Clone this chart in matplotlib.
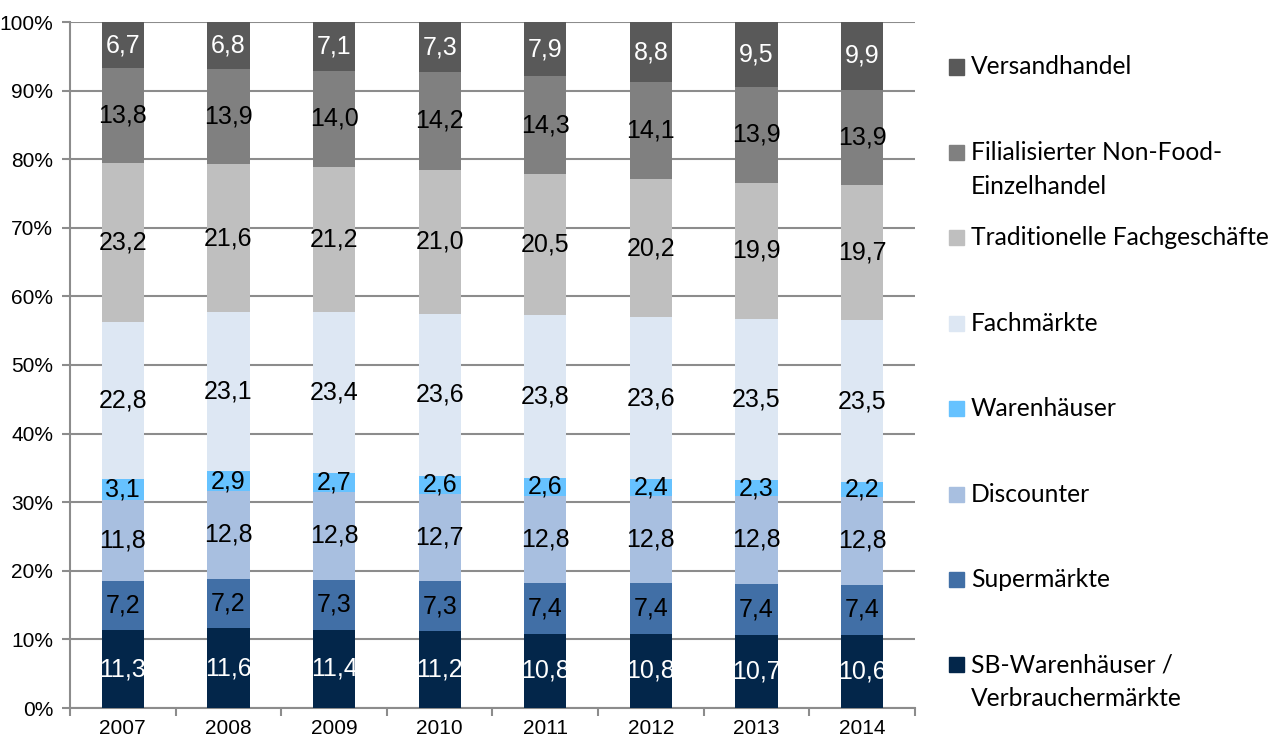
import matplotlib.pyplot as plt
import matplotlib.patches as mpatches
import numpy as np

years = ['2007', '2008', '2009', '2010', '2011', '2012', '2013', '2014']

# stack order bottom -> top
series_names = ['SB-Warenhäuser /\nVerbrauchermärkte', 'Supermärkte', 'Discounter', 'Warenhäuser',
                'Fachmärkte', 'Traditionelle Fachgeschäfte', 'Filialisierter Non-Food-\nEinzelhandel',
                'Versandhandel']
sb_warenhaeuser = [11.3, 11.6, 11.4, 11.2, 10.8, 10.8, 10.7, 10.6]
supermaerkte = [7.2, 7.2, 7.3, 7.3, 7.4, 7.4, 7.4, 7.4]
discounter = [11.8, 12.8, 12.8, 12.7, 12.8, 12.8, 12.8, 12.8]
warenhaeuser = [3.1, 2.9, 2.7, 2.6, 2.6, 2.4, 2.3, 2.2]
fachmaerkte = [22.8, 23.1, 23.4, 23.6, 23.8, 23.6, 23.5, 23.5]
fachgeschaefte = [23.2, 21.6, 21.2, 21.0, 20.5, 20.2, 19.9, 19.7]
filialisiert = [13.8, 13.9, 14.0, 14.2, 14.3, 14.1, 13.9, 13.9]
versandhandel = [6.7, 6.8, 7.1, 7.3, 7.9, 8.8, 9.5, 9.9]

series = [sb_warenhaeuser, supermaerkte, discounter, warenhaeuser,
          fachmaerkte, fachgeschaefte, filialisiert, versandhandel]
colors = ['#03264a', '#416fa6', '#a8bfe0', '#66c2ff', '#dde7f3', '#bfbfbf', '#808080', '#595959']
label_colors = ['white', 'black', 'black', 'black', 'black', 'black', 'black', 'white']

plt.rcParams['font.family'] = ['Liberation Sans', 'DejaVu Sans']

fig = plt.figure(figsize=(12.69, 7.40), dpi=100)
ax = fig.add_axes([70 / 1269, 1 - 708 / 740, (915 - 70) / 1269, (708 - 22) / 740])

data = np.array(series)
totals = data.sum(axis=0)
norm = data / totals * 100
x = np.arange(len(years))
bottom = np.zeros(len(years))
for i in range(len(series)):
    ax.bar(x, norm[i], 0.4, bottom=bottom, color=colors[i], zorder=3)
    for j in range(len(years)):
        ax.text(x[j], bottom[j] + norm[i][j] / 2, f'{series[i][j]:.1f}'.replace('.', ','),
                ha='center', va='center', fontsize=18, color=label_colors[i], zorder=4)
    bottom += norm[i]

grid_col = '#8c8c8c'
ax.set_xlim(-0.5, len(years) - 0.5)
ax.set_ylim(0, 100)
ax.set_yticks(np.arange(0, 101, 10))
ax.set_yticklabels([f'{v}%' for v in range(0, 101, 10)], fontsize=15)
ax.yaxis.grid(True, color=grid_col, linewidth=1.5, zorder=0)
ax.set_xticks(x)
ax.set_xticklabels(years, fontsize=15)
ax.set_xticks(np.arange(-0.5, len(years), 1), minor=True)
ax.tick_params(axis='x', which='major', length=0, pad=8)
ax.tick_params(axis='x', which='minor', length=6, width=1.5, color=grid_col)
ax.tick_params(axis='y', length=6, width=1.5, color=grid_col, pad=6)
for s in ['top', 'right']:
    ax.spines[s].set_visible(False)
for s in ['left', 'bottom']:
    ax.spines[s].set_color(grid_col)
    ax.spines[s].set_linewidth(1.5)

# legend, drawn by hand (top entry = top of stack)
W, H = 1269, 740
y0, step = 67, 85.4
for k, i in enumerate(range(len(series) - 1, -1, -1)):
    yc = y0 + k * step
    fig.add_artist(mpatches.Rectangle((949 / W, 1 - (yc + 7.5) / H), 15 / W, 15 / H,
                                      color=colors[i], transform=fig.transFigure))
    for n, line in enumerate(series_names[i].split('\n')):
        fig.text(971 / W, 1 - (yc + n * 34) / H, line, ha='left', va='center',
                 fontsize=17.7, family=['Lato', 'DejaVu Sans'])

fig.savefig('out.png', dpi=100)
